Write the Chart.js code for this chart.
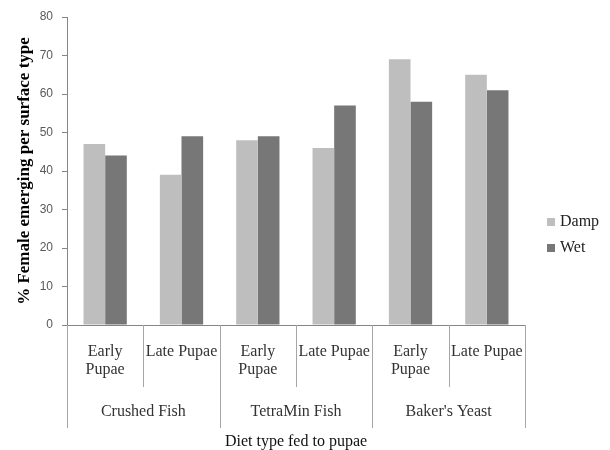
<!DOCTYPE html>
<html>
<head>
<meta charset="utf-8">
<script src="https://cdn.jsdelivr.net/npm/chart.js@4"></script>
<style>
  html, body { margin: 0; padding: 0; background: #fff; }
  canvas { display: block; }
</style>
</head>
<body>
<canvas id="c" width="610" height="450"></canvas>
<script>
// ---- data ----
const diets = ["Crushed Fish", "TetraMin Fish", "Baker's Yeast"];
const stages = [["Early", "Pupae"], ["Late Pupae"]];
const seriesNames = ["Damp", "Wet"];
const dampValues = [47, 39, 48, 46, 69, 65];
const wetValues = [44, 49, 49, 57, 58, 61];
const yTicks = [0, 10, 20, 30, 40, 50, 60, 70, 80];
const yTitle = "% Female emerging per surface type";
const xTitle = "Diet type fed to pupae";

// ---- styles ----
const colors = ["#BEBEBE", "#777777"];
const serif = "'Liberation Serif', 'Times New Roman', serif";
const axisColor = "#868686";
const sepColor = "#A6A6A6";

const categories = [];
const stageOf = [];
diets.forEach(d => stages.forEach(s => { categories.push(d + " - " + s.join(" ")); stageOf.push(s); }));

const multiLevelAxis = {
  id: "multiLevelAxis",
  afterDraw(chart) {
    const ctx = chart.ctx;
    const x = chart.scales.x;
    const area = chart.chartArea;
    const n = categories.length;
    const half = (x.getPixelForValue(1) - x.getPixelForValue(0)) / 2;
    ctx.save();
    // separators
    ctx.strokeStyle = sepColor;
    ctx.lineWidth = 1;
    for (let j = 0; j <= n; j++) {
      const bx = Math.round(x.getPixelForValue(j) - half) + 0.5;
      const len = (j % stages.length === 0) ? 103 : 62;
      ctx.beginPath();
      ctx.moveTo(bx, area.bottom);
      ctx.lineTo(bx, area.bottom + len);
      ctx.stroke();
    }
    // inner labels
    ctx.fillStyle = "#333";
    ctx.font = "16px " + serif;
    ctx.textAlign = "center";
    ctx.textBaseline = "middle";
    stageOf.forEach((lines, i) => {
      const cx = x.getPixelForValue(i);
      lines.forEach((t, k) => ctx.fillText(t, cx, area.bottom + 27 + k * 18));
    });
    // group labels
    diets.forEach((d, g) => {
      const a = x.getPixelForValue(g * stages.length) - half;
      const b = x.getPixelForValue(g * stages.length + stages.length - 1) + half;
      ctx.fillText(d, (a + b) / 2, area.bottom + 87);
    });
    // axis title
    ctx.fillStyle = "#111";
    ctx.fillText(xTitle, (area.left + area.right) / 2, area.bottom + 117);
    // legend
    chart.data.datasets.forEach((ds, i) => {
      const ly = 222 + i * 26;
      ctx.fillStyle = ds.backgroundColor;
      ctx.fillRect(547, ly - 4, 8, 8);
      ctx.fillStyle = "#222";
      ctx.textAlign = "left";
      ctx.fillText(ds.label, 560, ly);
    });
    ctx.restore();
  }
};

new Chart(document.getElementById("c"), {
  type: "bar",
  data: {
    labels: categories,
    datasets: [
      { label: seriesNames[0], data: dampValues, backgroundColor: colors[0] },
      { label: seriesNames[1], data: wetValues, backgroundColor: colors[1] }
    ]
  },
  options: {
    responsive: false,
    animation: false,
    layout: { padding: { top: 17, right: 85, bottom: 0, left: 0 } },
    datasets: { bar: { categoryPercentage: 0.567, barPercentage: 1.0 } },
    plugins: { legend: { display: false }, tooltip: { enabled: false } },
    scales: {
      x: {
        ticks: { display: false },
        grid: { display: false },
        border: { display: true, color: axisColor },
        afterFit: s => { s.height = 125; }
      },
      y: {
        min: 0, max: 80,
        afterBuildTicks: s => { s.ticks = yTicks.map(v => ({ value: v })); },
        ticks: { color: "#595959", font: { family: "'Liberation Sans', Arial, sans-serif", size: 12 }, padding: 9 },
        grid: { drawOnChartArea: false, tickLength: 5, color: axisColor },
        border: { color: axisColor },
        title: { display: true, text: yTitle, color: "#000", font: { family: serif, size: 17, weight: "bold" }, padding: { top: 14, bottom: 0 } },
        afterFit: s => { s.width = 67; }
      }
    }
  },
  plugins: [multiLevelAxis]
});
</script>
</body>
</html>
